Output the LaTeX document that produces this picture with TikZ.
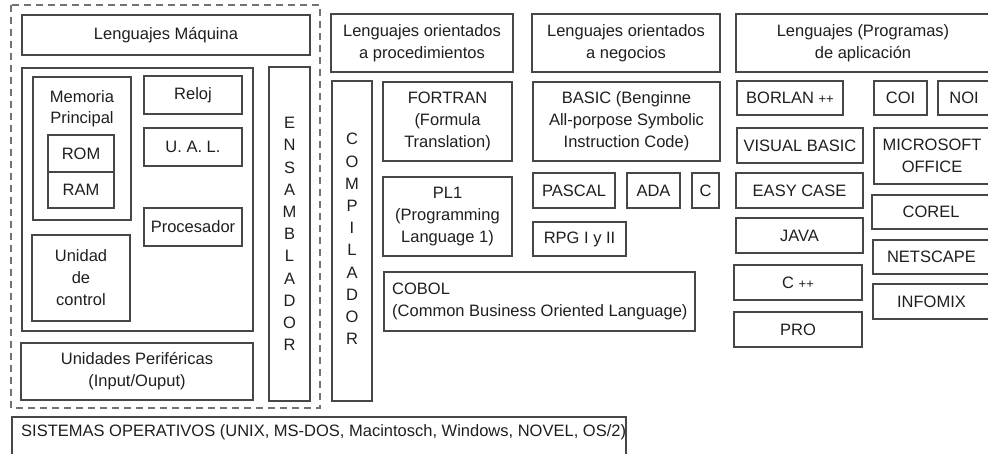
\documentclass[tikz,border=0pt]{standalone}
\usepackage{fontspec}
\setmainfont{Liberation Sans}
\tikzset{
  box/.style={draw=black!72, line width=1.1pt, inner sep=0pt, align=center,
    font=\fontsize{16.5}{22}\selectfont, text=black!88},
  txt/.style={inner sep=0pt, align=center, font=\fontsize{16.5}{22}\selectfont, text=black!88},
  vtxt/.style={inner sep=0pt, align=center, font=\fontsize{16.5}{22.2}\selectfont, text=black!88},
  dashbox/.style={draw=black!55, line width=1.1pt, dash pattern=on 7pt off 5pt},
}
\newcommand\bx[6]{\node[box, minimum width={(#4)-(#2)}, minimum height={(#5)-(#3)}] (#1) at ({((#2)+(#4))/2},{((#3)+(#5))/2}) {#6};}
\newcommand\pp{{\fontsize{13}{13}\selectfont ++}}
\begin{document}
\begin{tikzpicture}[x=1pt,y=-1pt]
\useasboundingbox (0,0) rectangle (988,453);
% dashed frame
\coordinate (dA) at (11,5);
\coordinate (dB) at (320,408);
\draw[dashbox] (dA) rectangle (dB);
% left block
\bx{maq}{22}{15}{310}{55}{Lenguajes Máquina}
\bx{cpu}{22}{68}{253}{331}{}
\bx{mem}{33}{77}{131}{220}{}
\node[txt, anchor=base] (mem1) at (82,102) {Memoria};
\node[txt, anchor=base] (mem2) at (82,123) {Principal};
\bx{rom}{48}{135}{114}{172}{ROM}
\bx{ram}{48}{172}{114}{208}{RAM}
\bx{reloj}{144}{76}{242}{114}{Reloj}
\bx{ual}{144}{128}{242}{166}{U. A. L.}
\bx{proc}{144}{208}{242}{246}{Procesador}
\bx{ucon}{32}{235}{130}{321}{Unidad\\de\\control}
\bx{ens}{269}{67}{310}{401}{}
\node[vtxt] (enst) at (ens.center) {E\\N\\S\\A\\M\\B\\L\\A\\D\\O\\R};
\bx{peri}{21}{343}{253}{400}{Unidades Periféricas\\(Input/Ouput)}
% operating systems
\bx{so}{12}{417}{626}{458}{}
\node[txt, anchor=west] (sot) at (21,432) {SISTEMAS OPERATIVOS (UNIX, MS-DOS, Macintosch, Windows, NOVEL, OS/2)};
% procedure oriented
\bx{hproc}{331}{14}{513}{72}{Lenguajes orientados\\a procedimientos}
\bx{comp}{332}{81}{372}{401}{}
\node[vtxt] (compt) at (352,239) {C\\O\\M\\P\\I\\L\\A\\D\\O\\R};
\bx{fortran}{383}{82}{512}{161}{FORTRAN\\(Formula\\Translation)}
\bx{pl1}{383}{177}{512}{256}{PL1\\(Programming\\Language 1)}
\bx{cobol}{384}{272}{695}{331}{}
\node[txt, align=left, anchor=west] (cobolt) at (392,301.5) {COBOL\\(Common Business Oriented Language)};
% business oriented
\bx{hneg}{532}{14}{720}{72}{Lenguajes orientados\\a negocios}
\bx{basic}{533}{82}{720}{161}{BASIC (Benginne\\All-porpose Symbolic\\Instruction Code)}
\bx{pascal}{533}{173}{615}{208}{PASCAL}
\bx{ada}{627}{173}{680}{208}{ADA}
\bx{c}{692}{173}{719}{208}{C}
\bx{rpg}{533}{222}{626}{256}{RPG I y II}
% applications
\bx{happ}{736}{14}{990}{72}{Lenguajes (Programas)\\de aplicación}
\bx{borlan}{737}{81}{843}{115}{BORLAN \pp}
\bx{vb}{737}{128}{863}{163}{VISUAL BASIC}
\bx{easy}{736}{173}{863}{208}{EASY CASE}
\bx{java}{736}{218}{863}{253}{JAVA}
\bx{cpp}{734}{265}{862}{300}{C \pp}
\bx{pro}{734}{312}{862}{347}{PRO}
\bx{coi}{874}{81}{927}{115}{COI}
\bx{noi}{938}{81}{990}{115}{NOI}
\bx{msoff}{874}{128}{990}{184}{MICROSOFT\\OFFICE}
\bx{corel}{872}{195}{990}{229}{COREL}
\bx{netscape}{873}{240}{990}{274}{NETSCAPE}
\bx{infomix}{873}{284}{990}{319}{INFOMIX}
\end{tikzpicture}
\end{document}
